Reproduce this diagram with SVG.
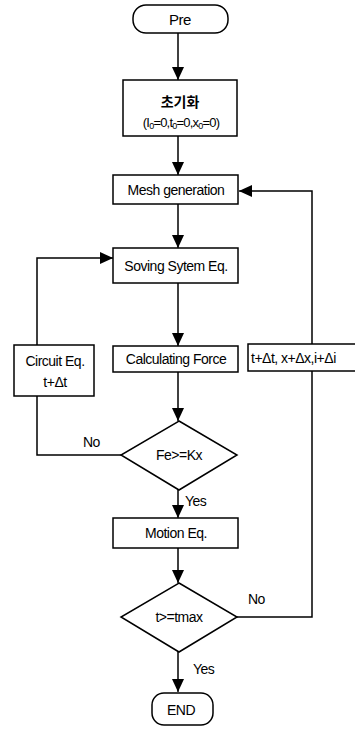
<svg xmlns="http://www.w3.org/2000/svg" width="355" height="729" viewBox="0 0 355 729">
<defs>
<marker id="ah" markerUnits="userSpaceOnUse" markerWidth="12" markerHeight="14" refX="13" refY="6" orient="auto">
<path d="M0,0 L13,6 L0,12 Z" fill="#000"/>
</marker>
<style>
.n{fill:#fff;stroke:#000;stroke-width:1.5}
.c{fill:none;stroke:#000;stroke-width:1.5}
text{font-family:"Liberation Sans",Arial,sans-serif;font-size:14px;fill:#000;letter-spacing:-0.5px}
.m{text-anchor:middle}
</style>
</defs>
<rect width="355" height="729" fill="#fff"/>
<g id="connectors">
<path class="c" d="M178,33 V80" marker-end="url(#ah)"/>
<path class="c" d="M178,136 V175" marker-end="url(#ah)"/>
<path class="c" d="M178,204 V248" marker-end="url(#ah)"/>
<path class="c" d="M178,283 V346" marker-end="url(#ah)"/>
<path class="c" d="M178,372 V421" marker-end="url(#ah)"/>
<path class="c" d="M178,490 V518" marker-end="url(#ah)"/>
<path class="c" d="M178,548 V583" marker-end="url(#ah)"/>
<path class="c" d="M178,652 V692" marker-end="url(#ah)"/>
<path class="c" d="M121,455 H37 V396"/>
<path class="c" d="M37,345 V258 H113" marker-end="url(#ah)"/>
<path class="c" d="M237,617 H312 V371"/>
<path class="c" d="M312,344 V191 H239" marker-end="url(#ah)"/>
<text x="83" y="447">No</text>
<text x="185" y="506">Yes</text>
<text x="248" y="604">No</text>
<text x="193" y="674">Yes</text>
</g>
<g id="pre">
<rect class="n" x="133" y="5" width="95" height="28" rx="13"/>
<text class="m" x="180" y="25" style="font-size:15px">Pre</text>
</g>
<g id="init">
<rect class="n" x="123" y="80" width="114" height="56"/>
<text class="m" x="180" y="107" style="font-family:'Noto Sans CJK KR',sans-serif;font-weight:bold;font-size:14px;letter-spacing:0">초기화</text>
<text class="m" x="181" y="127" style="font-size:13px;letter-spacing:-0.8px">(I<tspan font-size="9" dy="2">0</tspan><tspan dy="-2">=0,t</tspan><tspan font-size="9" dy="2">0</tspan><tspan dy="-2">=0,x</tspan><tspan font-size="9" dy="2">0</tspan><tspan dy="-2">=0)</tspan></text>
</g>
<g id="mesh">
<rect class="n" x="113" y="175" width="125" height="29"/>
<text class="m" x="176" y="195">Mesh generation</text>
</g>
<g id="solve">
<rect class="n" x="113" y="248" width="125" height="35"/>
<text class="m" x="176" y="271">Soving Sytem Eq.</text>
</g>
<g id="calc">
<rect class="n" x="113" y="346" width="125" height="26"/>
<text class="m" x="176" y="364">Calculating Force</text>
</g>
<g id="circuit">
<rect class="n" x="14" y="345" width="80" height="51"/>
<text class="m" x="55" y="366">Circuit Eq.</text>
<text class="m" x="55" y="387">t+Δt</text>
</g>
<g id="update">
<rect class="n" x="248" y="344" width="110" height="27"/>
<text x="251" y="363">t+Δt, x+Δx,i+Δi</text>
</g>
<g id="check1">
<polygon class="n" points="179,421 237,455 179,490 121,455"/>
<text class="m" x="179" y="460">Fe&gt;=Kx</text>
</g>
<g id="motion">
<rect class="n" x="113" y="518" width="125" height="30"/>
<text class="m" x="176" y="538">Motion Eq.</text>
</g>
<g id="check2">
<polygon class="n" points="179,583 237,617 179,652 121,617"/>
<text class="m" x="179" y="622">t&gt;=tmax</text>
</g>
<g id="end">
<rect class="n" x="152" y="693" width="61" height="32" rx="12"/>
<text class="m" x="181" y="715">END</text>
</g>
</svg>
